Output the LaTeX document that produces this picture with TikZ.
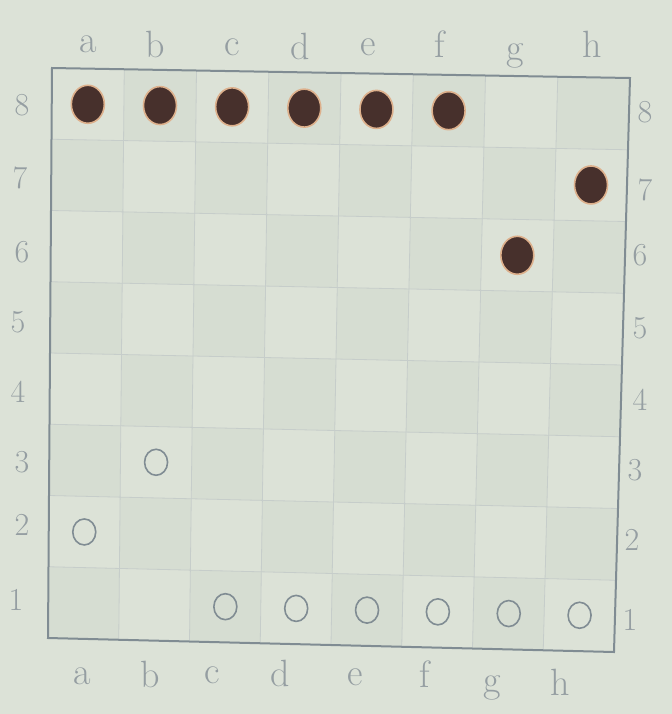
\documentclass[tikz,border=0pt]{standalone}
\usepackage{tikz}
\usetikzlibrary{calc,shapes.geometric}
\definecolor{paper}{HTML}{DCE2D7}
\definecolor{darksq}{HTML}{D6DDD2}
\definecolor{pencil}{HTML}{808C93}
\definecolor{faintline}{HTML}{C6CDCA}
\definecolor{lblgray}{HTML}{959EA2}
\definecolor{stoneblack}{HTML}{47302C}
\definecolor{stonehalo}{HTML}{DDB08C}
\tikzset{
  board/.style={draw=pencil,line width=1pt},
  gridline/.style={draw=faintline,line width=0.4pt},
  blackstone/.style={ellipse,draw=stonehalo,fill=stoneblack,line width=0.8pt,minimum width=16.5pt,minimum height=19pt,inner sep=0pt},
  whitestone/.style={ellipse,draw=pencil,line width=0.8pt,minimum width=11.5pt,minimum height=13pt,inner sep=0pt},
  filelbl/.style={text=lblgray,font=\fontsize{19}{22}\selectfont,inner sep=0pt},
  ranklbl/.style={text=lblgray,font=\fontsize{16}{19}\selectfont,inner sep=0pt}
}
\begin{document}
\begin{tikzpicture}[x=0.5pt,y=-0.5pt]
  \fill[paper] (0,0) rectangle (672,714);
  \useasboundingbox (0,0) rectangle (672,714);
  \coordinate (TL) at (52,68); \coordinate (TR) at (630,78);
  \coordinate (BL) at (48,638); \coordinate (BR) at (614,652);

  \foreach \i in {0,...,8}{
    \pgfmathsetmacro{\fu}{\i/8}
    \coordinate (t-\i) at ($(TL)!\fu!(TR)$);
    \coordinate (b-\i) at ($(BL)!\fu!(BR)$);
    \foreach \j in {0,...,8}{
      \pgfmathsetmacro{\fv}{\j/8}
      \coordinate (g-\i-\j) at ($(t-\i)!\fv!(b-\i)$);
    }
  }

  \foreach \i in {0,...,7}
    \foreach \j in {0,...,7}{
      \pgfmathtruncatemacro{\ii}{\i+1}
      \pgfmathtruncatemacro{\jj}{\j+1}
      \pgfmathtruncatemacro{\odd}{mod(\i+\j,2)}
      \ifnum\odd=1 \fill[darksq] (g-\i-\j) -- (g-\ii-\j) -- (g-\ii-\jj) -- (g-\i-\jj) -- cycle;\fi
    }

  \foreach \k in {1,...,7}{
    \draw[gridline] (g-\k-0) -- (g-\k-8);
    \draw[gridline] (g-0-\k) -- (g-8-\k);
  }
  \draw[board] (g-0-0) -- (g-8-0) -- (g-8-8) -- (g-0-8) -- cycle;

  \foreach \f [count=\i from 0] in {a,b,c,d,e,f,g,h}{
    \pgfmathsetmacro{\fu}{(\i+0.5)/8}
    \coordinate (ct-\f) at ($(TL)!\fu!(TR)$);
    \coordinate (cb-\f) at ($(BL)!\fu!(BR)$);
    \foreach \r in {1,...,8}{
      \pgfmathsetmacro{\fv}{(8.5-\r)/8}
      \coordinate (\f\r) at ($(ct-\f)!\fv!(cb-\f)$);
    }
  }

  \foreach \sq in {a8,b8,c8,d8,e8,f8,h7,g6}
    \node[blackstone] (bs-\sq) at (\sq) {};
  \foreach \sq in {b3,a2,c1,d1,e1,f1,g1,h1}
    \node[whitestone] (ws-\sq) at (\sq) {};

  \foreach \f/\x/\y in {a/88/44,b/155/44,c/232/47,d/300/46,e/368/47,f/440/44,g/515/56,h/592/44}
    \node[filelbl] (top-\f) at (\x,\y) {\f};
  \foreach \f/\x/\y in {a/82/676,b/150/674,c/212/675,d/280/673,e/355/677,f/425/674,g/492/688,h/560/682}
    \node[filelbl] (bot-\f) at (\x,\y) {\f};
  \foreach \r/\x/\y in {8/22/105,7/20/178,6/22/252,5/18/322,4/18/392,3/22/462,2/22/525,1/16/600}
    \node[ranklbl] (left-\r) at (\x,\y) {\r};
  \foreach \r/\x/\y in {8/645/112,7/645/190,6/640/255,5/640/328,4/640/400,3/635/470,2/632/540,1/630/620}
    \node[ranklbl] (right-\r) at (\x,\y) {\r};
\end{tikzpicture}
\end{document}
